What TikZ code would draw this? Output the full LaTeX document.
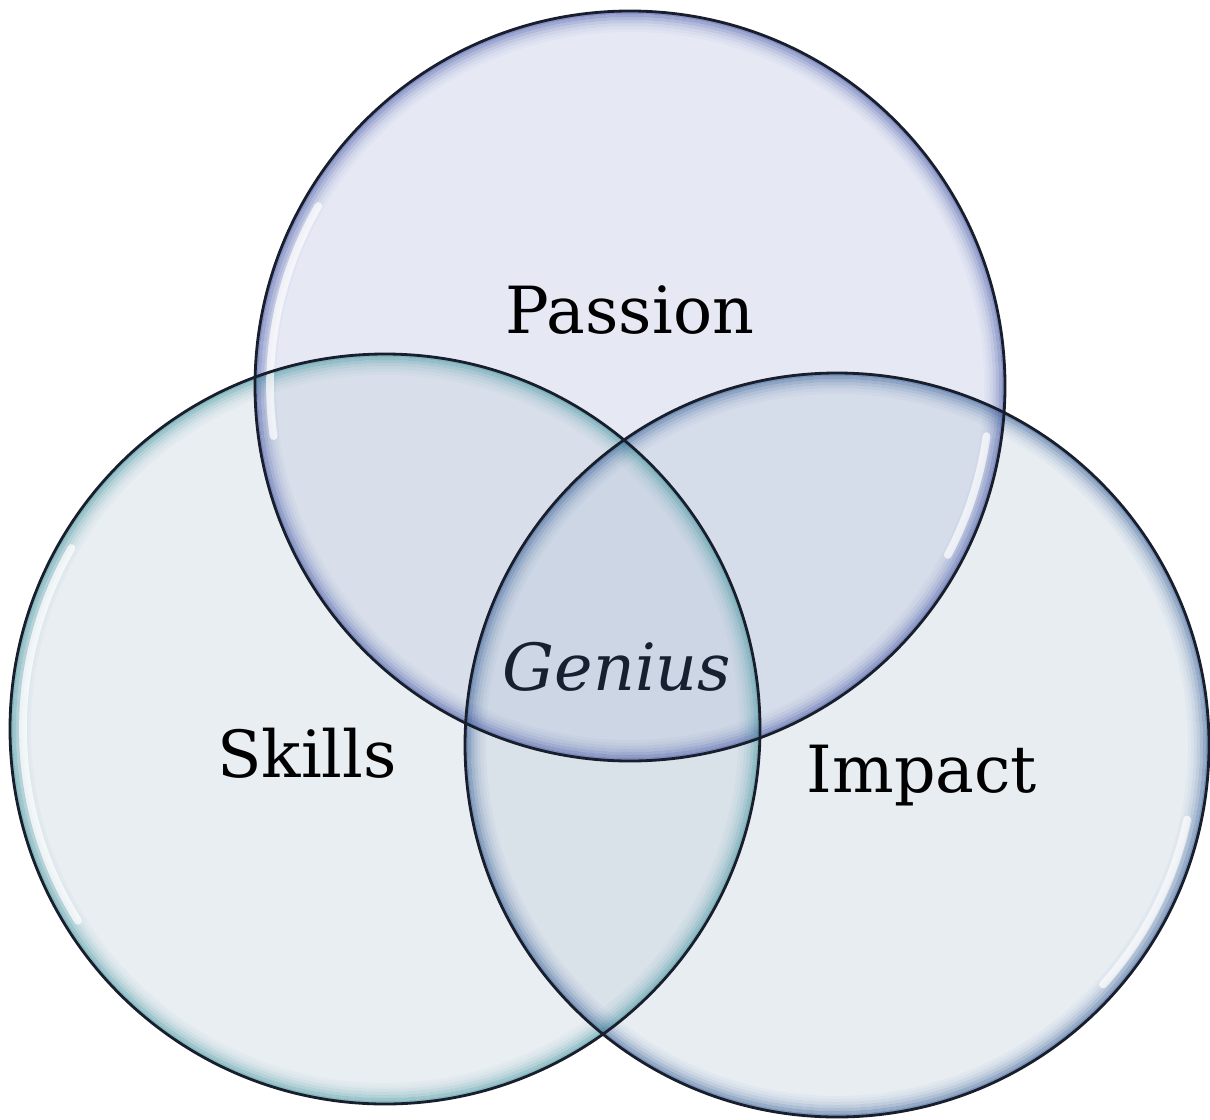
\documentclass[tikz,border=0pt]{standalone}
\usepackage{fontspec}
\setmainfont{DejaVu Serif}

\definecolor{passfill}{RGB}{178,188,222}
\definecolor{passrim}{RGB}{70,88,165}
\definecolor{skillfill}{RGB}{188,202,215}
\definecolor{skillrim}{RGB}{70,150,160}
\definecolor{impfill}{RGB}{182,198,215}
\definecolor{imprim}{RGB}{55,95,150}
\definecolor{rimline}{RGB}{25,30,45}
\definecolor{geniustext}{RGB}{22,32,48}

\begin{document}
\begin{tikzpicture}

    \tikzset{
      bubble/.style={fill opacity=0.32},
      ring/.style={line width=0.03cm},
      outline/.style={draw=rimline, line width=0.8pt},
      gloss/.style={white, line width=2.2pt, opacity=0.7, line cap=round},
      label/.style={anchor=base, inner sep=0pt, font=\fontsize{18.5}{22}\selectfont},
    }
    \useasboundingbox (0,0) rectangle (12.10,11.19);

	\coordinate (cpass) at (6.30,7.33);
	\coordinate (cskill) at (3.85,3.90);
	\coordinate (cimp) at (8.37,3.74);

	% fills
	\fill[passfill, bubble] (cpass) circle (3.75);
	\fill[skillfill, bubble] (cskill) circle (3.75);
	\fill[impfill, bubble] (cimp) circle (3.72);

	% rims
	\foreach \d/\o in {0.015/0.6,0.045/0.45,0.075/0.32,0.105/0.22,0.135/0.14,0.165/0.08,0.195/0.04}{
	  \draw[passrim, ring, opacity=\o] (cpass) circle ({3.75-\d});
	  \draw[skillrim, ring, opacity=\o] (cskill) circle ({3.75-\d});
	  \draw[imprim, ring, opacity=\o] (cimp) circle ({3.72-\d});
	}

	% highlights
	\draw[gloss] ([shift={(150:3.62)}]cskill) arc (150:212:3.62);
	\draw[gloss] ([shift={(150:3.60)}]cpass) arc (150:188:3.60);
	\draw[gloss] ([shift={(-8:3.60)}]cpass) arc (-8:-28:3.60);
	\draw[gloss] ([shift={(-12:3.58)}]cimp) arc (-12:-42:3.58);

	% outlines
	\draw[outline] (cpass) circle (3.75);
	\draw[outline] (cskill) circle (3.75);
	\draw[outline] (cimp) circle (3.72);

	\node[label] (passion) at (6.30,7.86) {Passion};
	\node[label] (skills) at (3.07,3.42) {Skills};
	\node[label] (impact) at (9.22,3.27) {Impact};
	\node[label, text=geniustext] (genius) at (6.17,4.29) {\itshape Genius};

\end{tikzpicture}
\end{document}
